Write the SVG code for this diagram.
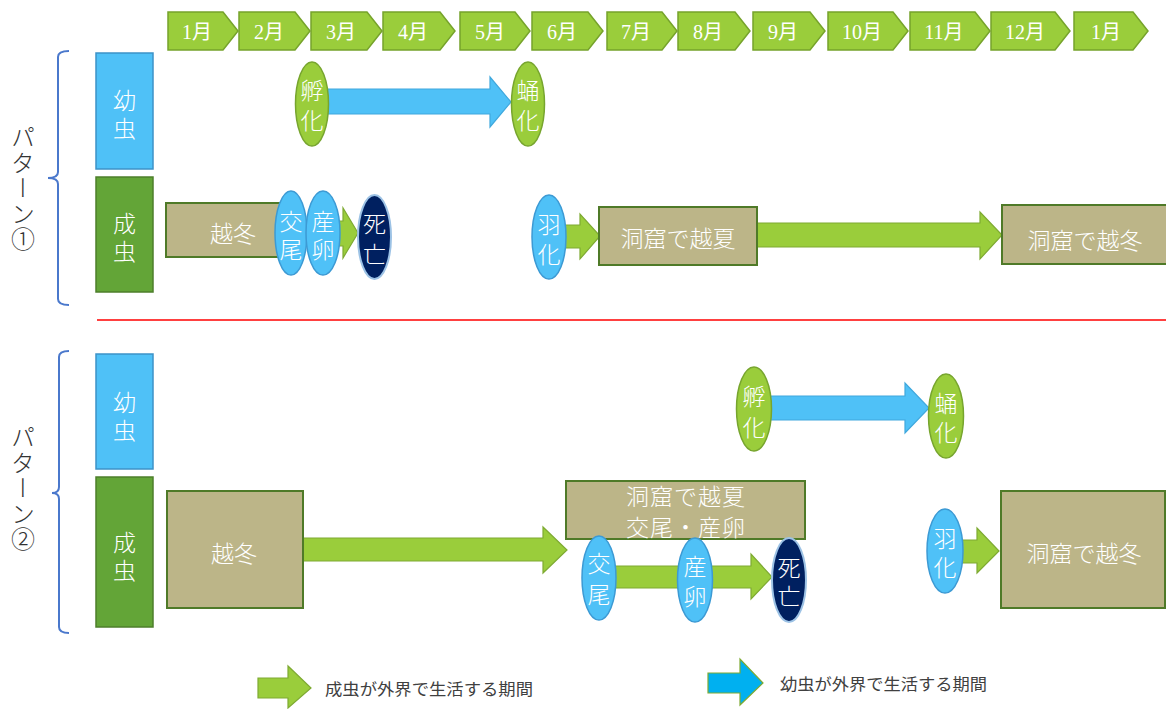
<svg xmlns="http://www.w3.org/2000/svg" width="1166" height="709" viewBox="0 0 1166 709">
<style>
  .mon{fill:#9ACD3B;stroke:#76A32B;stroke-width:1.5}
  .mt{font-family:"Liberation Serif","Noto Sans CJK JP",serif;font-size:20px;fill:#fff;text-anchor:middle;dominant-baseline:central}
  .wt{font-family:"Noto Sans CJK JP","Noto Sans CJK SC",sans-serif;font-size:23px;font-weight:300;fill:#fff;text-anchor:middle;dominant-baseline:central}
  .vt{font-family:"Noto Sans CJK JP","Noto Sans CJK SC",sans-serif;font-size:23px;font-weight:300;fill:#fff;writing-mode:vertical-rl}
  .larva{fill:#4FC1F7;stroke:#3C92C8;stroke-width:1.5}
  .adult{fill:#63A537;stroke:#4D7F2B;stroke-width:1.5}
  .khaki{fill:#BCB588;stroke:#4F7A28;stroke-width:2}
  .blueE{fill:#4FC1F7;stroke:#3C9AD4;stroke-width:1.5}
  .greenE{fill:#9ACD3B;stroke:#77A52E;stroke-width:1.5}
  .navyE{fill:#002060;stroke:#9CC2E5;stroke-width:2}
  .ga{fill:#9ACD3B;stroke:#7EAA32;stroke-width:1.2}
  .ba{fill:#4FC1F7;stroke:#40A8DD;stroke-width:1.2}
  .lba{fill:#00B0F0;stroke:#7EAA32;stroke-width:1.2}
  .br{fill:none;stroke:#4A78CC;stroke-width:2}
  .pt{font-family:"Noto Sans CJK JP","Noto Sans CJK SC",sans-serif;font-size:24px;font-weight:300;fill:#333;writing-mode:vertical-rl;letter-spacing:1.5px}
  .lt{font-family:"Noto Sans CJK JP","Noto Sans CJK SC",sans-serif;font-size:16px;fill:#404040;dominant-baseline:central}
</style>

<g id="timeline">
  <g id="m1"><path class="mon" d="M168,12H223L238,31L223,50H168Z"/><text class="mt" x="197" y="32">1月</text></g>
  <g id="m2"><path class="mon" d="M239,12H295L310,31L295,50H239Z"/><text class="mt" x="269" y="32">2月</text></g>
  <g id="m3"><path class="mon" d="M311,12H367L382,31L367,50H311Z"/><text class="mt" x="341" y="32">3月</text></g>
  <g id="m4"><path class="mon" d="M383,12H440L455,31L440,50H383Z"/><text class="mt" x="413" y="32">4月</text></g>
  <g id="m5"><path class="mon" d="M460,12H515L530,31L515,50H460Z"/><text class="mt" x="490" y="32">5月</text></g>
  <g id="m6"><path class="mon" d="M532,12H588L603,31L588,50H532Z"/><text class="mt" x="562" y="32">6月</text></g>
  <g id="m7"><path class="mon" d="M607,12H662L677,31L662,50H607Z"/><text class="mt" x="636" y="32">7月</text></g>
  <g id="m8"><path class="mon" d="M678,12H735L750,31L735,50H678Z"/><text class="mt" x="708" y="32">8月</text></g>
  <g id="m9"><path class="mon" d="M753,12H810L825,31L810,50H753Z"/><text class="mt" x="783" y="32">9月</text></g>
  <g id="m10"><path class="mon" d="M828,12H893L908,31L893,50H828Z"/><text class="mt" x="862" y="32">10月</text></g>
  <g id="m11"><path class="mon" d="M910,12H975L990,31L975,50H910Z"/><text class="mt" x="944" y="32">11月</text></g>
  <g id="m12"><path class="mon" d="M991,12H1055L1070,31L1055,50H991Z"/><text class="mt" x="1025" y="32">12月</text></g>
  <g id="m13"><path class="mon" d="M1074,12H1133L1148,31L1133,50H1074Z"/><text class="mt" x="1106" y="32">1月</text></g>
</g>

<g id="pattern1-label">
  <path class="br" d="M69,51Q58,51 58,57V172Q58,178 48,178Q58,178 58,184V299Q58,305 69,305"/>
  <text class="pt" x="23" y="125">パターン①</text>
</g>
<g id="pattern2-label">
  <path class="br" d="M69,351Q59,351 59,357V487Q59,493 52,493Q59,493 59,499V627Q59,633 69,633"/>
  <text class="pt" x="23" y="425">パターン②</text>
</g>

<line id="divider" x1="97" y1="320" x2="1166" y2="320" stroke="#FF0000" stroke-width="1.5"/>

<g id="connectors">
  <polygon class="ba" points="325,89 490,89 490,77 511,102 490,127 490,114 325,114"/>
  <polygon class="ga" points="335,221 343,221 343,208 358,233 343,258 343,246 335,246"/>
  <polygon class="ga" points="560,225 580,225 580,214 600,236 580,259 580,248 560,248"/>
  <polygon class="ga" points="757,223 980,223 980,212 1002,235 980,259 980,247 757,247"/>
  <polygon class="ba" points="765,396 905,396 905,383 929,408 905,433 905,420 765,420"/>
  <polygon class="ga" points="303,538 543,538 543,527 567,550 543,573 543,561 303,561"/>
  <polygon class="ga" points="614,566 751,566 751,554 772,577 751,599 751,588 614,588"/>
  <polygon class="ga" points="958,540 977,540 977,528 999,551 977,573 977,563 958,563"/>
</g>

<g id="p1-larva"><rect class="larva" x="96" y="53" width="57" height="116"/><text class="vt" x="124.5" y="88.5" letter-spacing="5">幼虫</text></g>
<g id="p1-adult"><rect class="adult" x="96" y="177" width="57" height="115"/><text class="vt" x="124.5" y="211.5" letter-spacing="5">成虫</text></g>
<g id="p1-overwinter"><rect class="khaki" x="166" y="203" width="120" height="54"/><text class="wt" x="233" y="232">越冬</text></g>
<g id="p1-hatch"><ellipse class="greenE" cx="312" cy="104" rx="16.5" ry="42"/><text class="vt" x="312" y="78.5" letter-spacing="7">孵化</text></g>
<g id="p1-pupate"><ellipse class="greenE" cx="528" cy="104" rx="16.5" ry="42"/><text class="vt" x="528" y="78.5" letter-spacing="7">蛹化</text></g>
<g id="p1-mate"><ellipse class="blueE" cx="291" cy="233" rx="16" ry="42"/><text class="vt" x="291" y="209.5" letter-spacing="5">交尾</text></g>
<g id="p1-lay"><ellipse class="blueE" cx="323" cy="233" rx="17" ry="42"/><text class="vt" x="323" y="209.5" letter-spacing="5">産卵</text></g>
<g id="p1-death"><ellipse class="navyE" cx="374.5" cy="237" rx="16.5" ry="42"/><text class="vt" x="374.5" y="211.5" letter-spacing="8">死亡</text></g>
<g id="p1-emerge"><ellipse class="blueE" cx="549" cy="237" rx="17" ry="42"/><text class="vt" x="549" y="212.5" letter-spacing="7">羽化</text></g>
<g id="p1-summer"><rect class="khaki" x="599" y="207" width="158" height="58"/><text class="wt" x="678" y="237" font-size="25">洞窟で越夏</text></g>
<g id="p1-cavewinter"><rect class="khaki" x="1002" y="205" width="170" height="59"/><text class="wt" x="1085" y="239" font-size="25">洞窟で越冬</text></g>

<g id="p2-larva"><rect class="larva" x="96" y="354" width="57" height="115"/><text class="vt" x="124.5" y="390.5" letter-spacing="5">幼虫</text></g>
<g id="p2-adult"><rect class="adult" x="96" y="477" width="57" height="150"/><text class="vt" x="124.5" y="530.5" letter-spacing="5">成虫</text></g>
<g id="p2-overwinter"><rect class="khaki" x="167" y="491" width="136" height="117"/><text class="wt" x="234" y="552">越冬</text></g>
<g id="p2-hatch"><ellipse class="greenE" cx="754" cy="409" rx="17.5" ry="42"/><text class="vt" x="754" y="384.5" letter-spacing="8">孵化</text></g>
<g id="p2-pupate"><ellipse class="greenE" cx="946" cy="416" rx="17.5" ry="42"/><text class="vt" x="946" y="391.5" letter-spacing="6">蛹化</text></g>
<g id="p2-summer"><rect class="khaki" x="566" y="481" width="239" height="58"/><text class="wt" font-size="20" letter-spacing="1"><tspan x="686" y="495">洞窟で越夏</tspan><tspan x="686" y="526">交尾・産卵</tspan></text></g>
<g id="p2-mate"><ellipse class="blueE" cx="599" cy="578" rx="17" ry="42"/><text class="vt" x="599" y="551.5" letter-spacing="8">交尾</text></g>
<g id="p2-lay"><ellipse class="blueE" cx="695" cy="580" rx="17.5" ry="42"/><text class="vt" x="695" y="554.5" letter-spacing="7">産卵</text></g>
<g id="p2-death"><ellipse class="navyE" cx="789" cy="580" rx="17" ry="42"/><text class="vt" x="789" y="555.5" letter-spacing="6">死亡</text></g>
<g id="p2-emerge"><ellipse class="blueE" cx="945" cy="551" rx="18" ry="42"/><text class="vt" x="945" y="526.5" letter-spacing="6">羽化</text></g>
<g id="p2-cavewinter"><rect class="khaki" x="1001" y="491" width="164" height="117"/><text class="wt" x="1084" y="552" font-size="25">洞窟で越冬</text></g>

<g id="legend">
  <g id="legend-adult"><polygon class="ga" points="258,678 288,678 288,666 311,688 288,708 288,698 258,698"/><text class="lt" x="325" y="688" textLength="208" lengthAdjust="spacingAndGlyphs">成虫が外界で生活する期間</text></g>
  <g id="legend-larva"><polygon class="lba" points="708,673 740,673 740,659 763,683 740,705 740,693 708,693"/><text class="lt" x="780" y="683" textLength="207" lengthAdjust="spacingAndGlyphs">幼虫が外界で生活する期間</text></g>
</g>
</svg>
